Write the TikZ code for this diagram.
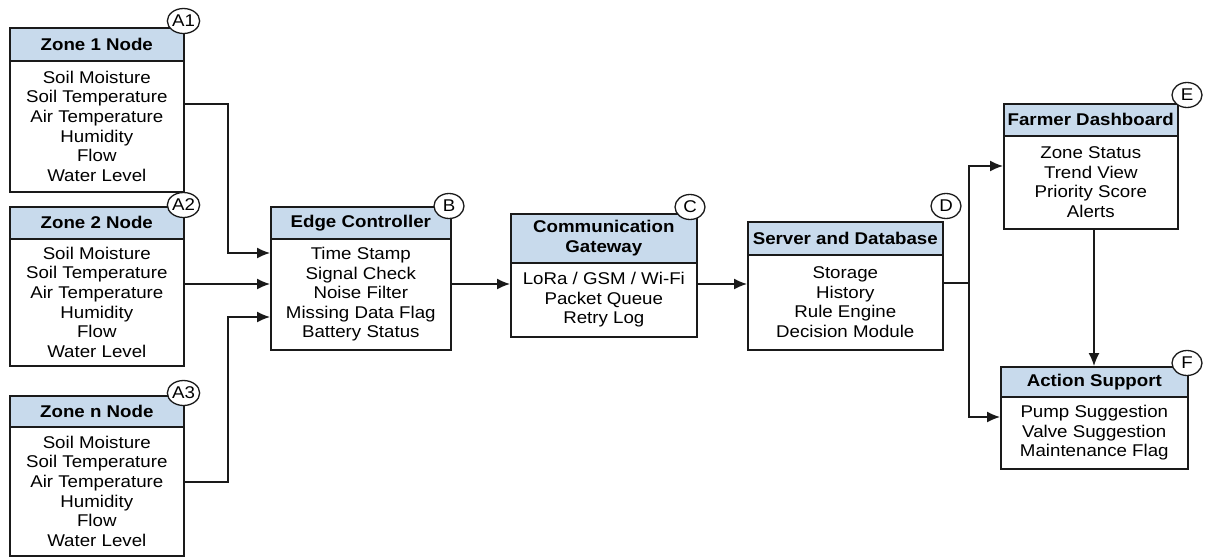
\documentclass[tikz,border=0pt]{standalone}
\usepackage{fontspec}
\setmainfont{Liberation Sans}[FakeStretch=1.1]
\usetikzlibrary{arrows.meta,shapes.geometric}
\definecolor{hdrblue}{HTML}{C8DAEC}
\definecolor{ink}{HTML}{1A1A1A}

\tikzset{
  hdr/.style={draw=ink, line width=1.6pt, fill=hdrblue, inner sep=0pt, align=center,
    font=\fontsize{17}{20}\selectfont\bfseries},
  bodyb/.style={draw=ink, line width=1.6pt, fill=white, inner sep=0pt, align=center,
    font=\fontsize{17}{19.6}\selectfont},
  tag/.style={ellipse, draw=ink, line width=1.3pt, fill=white, inner sep=0pt,
    minimum width=30pt, minimum height=25pt, font=\fontsize{17}{18}\selectfont},
  conn/.style={draw=ink, line width=1.4pt},
  arr/.style={conn, -{Latex[length=13pt,width=11pt]}}
}

% \blockbox{name}{left}{top}{right}{header bottom}{bottom}{title}{body}
\newcommand\blockbox[8]{%
  \node[hdr, anchor=north west, minimum width={#4pt-#2pt}, minimum height={#5pt-#3pt}]
    (#1h) at (#2,#3) {#7};
  \node[bodyb, anchor=north west, minimum width={#4pt-#2pt}, minimum height={#6pt-#5pt}]
    (#1) at (#2,#5) {#8};
}

\begin{document}
\begin{tikzpicture}[x=1pt, y=-1pt]
  \useasboundingbox (0,0) rectangle (1205,557);
  \fill[white] (0,0) rectangle (1205,557);

  \newcommand\zonetext{Soil Moisture\\Soil Temperature\\Air Temperature\\Humidity\\Flow\\Water Level}

  % sensor zones
  \blockbox{z1}{9}{27}{183}{60}{191}{Zone 1 Node}{\zonetext}
  \blockbox{z2}{9}{206}{183}{238}{365}{Zone 2 Node}{\zonetext}
  \blockbox{zn}{9}{395}{183}{426}{555}{Zone n Node}{\zonetext}

  % processing chain
  \blockbox{ec}{270}{206}{450}{238}{349}{Edge Controller}
    {Time Stamp\\Signal Check\\Noise Filter\\Missing Data Flag\\Battery Status}
  \blockbox{cg}{510}{213}{696}{262}{336}{Communication\\Gateway}
    {LoRa / GSM / Wi-Fi\\Packet Queue\\Retry Log}
  \blockbox{sd}{747}{221}{942}{254}{349}{Server and Database}
    {Storage\\History\\Rule Engine\\Decision Module}
  \blockbox{fd}{1003}{103}{1177}{135}{228}{Farmer Dashboard}
    {Zone Status\\Trend View\\Priority Score\\Alerts}
  \blockbox{as}{1000}{366}{1187}{396}{468}{Action Support}
    {Pump Suggestion\\Valve Suggestion\\Maintenance Flag}

  % connectors
  \coordinate (j1) at (228,104);
  \coordinate (j3) at (228,482);
  \coordinate (split) at (969,283);

  \draw[arr] (z1.east |- j1) -- (j1) |- (ec.west |- 0,253);
  \draw[arr] (z2.east |- 0,284) -- (ec.west |- 0,284);
  \draw[arr] (zn.east |- j3) -- (j3) |- (ec.west |- 0,317);
  \draw[arr] (ec.east |- 0,284) -- (cg.west |- 0,284);
  \draw[arr] (cg.east |- 0,284) -- (sd.west |- 0,284);
  \draw[conn] (sd.east |- split) -- (split);
  \draw[arr] (split) |- (fd.west |- 0,166);
  \draw[arr] (split) |- (as.west |- 0,417);
  \draw[arr] (fd.south -| 1094,0) -- (ash.north -| 1094,0);

  % corner tags
  \node[tag] (ta1) at (183.5,21) {A1};
  \node[tag] (ta2) at (183.5,205) {A2};
  \node[tag] (ta3) at (183.5,393) {A3};
  \node[tag] (tb) at (449,206) {B};
  \node[tag] (tc) at (690,207) {C};
  \node[tag] (td) at (946,206) {D};
  \node[tag] (te) at (1187,95) {E};
  \node[tag] (tf) at (1187,363) {F};
\end{tikzpicture}
\end{document}
